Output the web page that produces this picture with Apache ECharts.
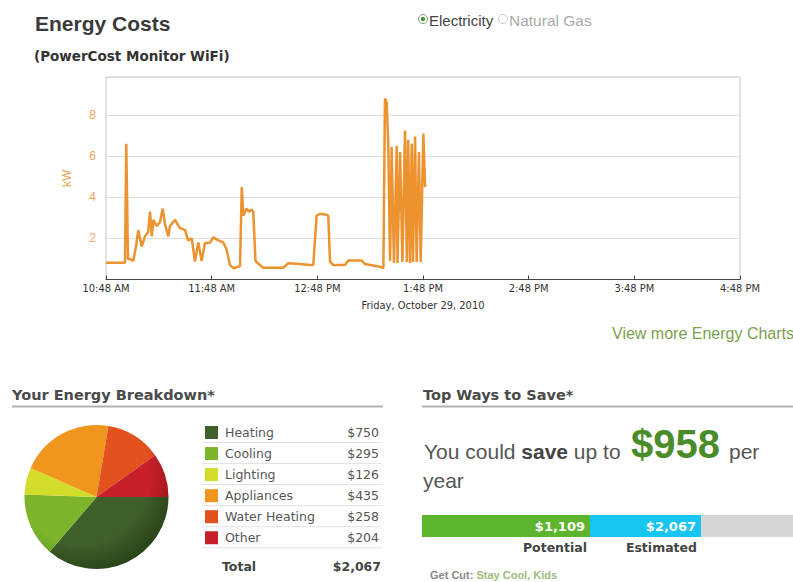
<!DOCTYPE html>
<html><head><meta charset="utf-8">
<script src="https://cdn.jsdelivr.net/npm/echarts@6/dist/echarts.min.js"></script>
<style>html,body{margin:0;padding:0;background:#fff}#c{width:793px;height:582px}</style>
</head><body><div id="c"></div>
<script>
// ---- data ----
const timeLabels = ['10:48 AM','11:48 AM','12:48 PM','1:48 PM','2:48 PM','3:48 PM','4:48 PM'];
const dateLabel = 'Friday, October 29, 2010';
const minutes = [0,10.8,11.5,12.5,13.6,15.5,17,18.3,20.3,22.1,23.9,25,26,26.9,28.8,30.7,32.2,33.5,35.4,36.3,39.2,42,44.9,46.6,48.7,50.5,52.4,54.3,56.2,59.1,60.9,63.8,66.6,68.5,70.4,72.3,76.1,77.1,78,79.9,81.2,82.7,83.6,84.9,87.5,89.3,100.7,103.5,110.2,115.8,117.7,119.6,121.5,125.3,126.2,127.2,129.1,135.7,137.6,145.2,147.1,155.6,157.5,158.4,159.4,160.3,161.3,162.2,163.5,165.1,165.5,167,168.3,169.8,170.8,171.6,172.6,173.6,174.3,175.5,176.4,177.7,178.7,180.2,181.2];
const kw = [0.82,0.82,6.6,1.0,1.0,0.9,1.6,2.4,1.6,2.1,2.3,3.3,2.1,2.9,2.6,2.8,3.45,2.7,2.1,2.6,2.9,2.5,2.4,1.9,2.0,0.87,1.8,0.9,1.76,1.8,2.05,1.9,1.8,1.45,0.7,0.55,0.65,4.5,3.1,3.45,3.3,3.4,3.3,0.9,0.7,0.57,0.57,0.79,0.75,0.7,0.7,3.1,3.2,3.15,3.1,0.87,0.7,0.7,0.92,0.92,0.75,0.62,0.55,8.8,8.6,6.5,0.9,6.45,0.8,6.5,0.8,6.2,0.85,7.25,0.85,6.8,0.8,6.6,0.85,6.95,0.85,6.2,0.85,7.1,4.5];
const categories = ['Heating','Cooling','Lighting','Appliances','Water Heating','Other'];
const costs = [750,295,126,435,258,204];
const totalCost = 2067;
const saveLabels = ['Potential','Estimated'];
const saveValues = [1109,2067];
const savingsPerYear = 958;

// ---- styles ----
const sliceColors = ['#3f5f2b','#7cb52c','#d2dc2a','#f0961f','#e3511f','#c8202a'];
const sliceDark = ['#2a4219','#5a8a18','#a8b014','#c87410','#b83a10','#981418'];
const money = v => '$' + v.toLocaleString('en-US');
const SANS = '"Liberation Sans", Arial, sans-serif';
const VERD = '"DejaVu Sans", Verdana, sans-serif';
const NARROW = '"Liberation Sans Narrow", "DejaVu Sans Condensed", sans-serif';

const chart = echarts.init(document.getElementById('c'), null, {renderer:'svg'});

const pieC = [96.5, 497], pieR = 72;

function txt(text, x, y, font, fill, align) {
  return {type:'text', x, y, silent:true, style:{text, font, fill, align: align||'left', verticalAlign:'middle', textAlign: align||'left', textVerticalAlign:'middle'}};
}
const g = [];
g.push(txt('Energy Costs', 35, 23, 'bold 21px ' + SANS, '#3a3a3a'));
g.push(txt('(PowerCost Monitor WiFi)', 34, 56, 'bold 13.5px ' + VERD, '#333'));
// radio buttons
g.push({type:'circle', shape:{cx:423, cy:19, r:4.5}, style:{fill:'#fff', stroke:'#7a9a7a', lineWidth:1}, silent:true});
g.push({type:'circle', shape:{cx:423, cy:19, r:2.2}, style:{fill:'#3a9a3a'}, silent:true});
g.push(txt('Electricity', 429, 20, '15px ' + SANS, '#444'));
g.push({type:'circle', shape:{cx:503, cy:19, r:4.5}, style:{fill:'#fff', stroke:'#ccc', lineWidth:1}, silent:true});
g.push(txt('Natural Gas', 509, 20, '15.5px ' + SANS, '#aaa'));
g.push(txt('View more Energy Charts', 612, 333, '16px ' + SANS, '#7ba14e'));
// section headers
g.push(txt('Your Energy Breakdown*', 12, 395, 'bold 14.5px ' + VERD, '#4a4a4a'));
g.push({type:'line', shape:{x1:12, y1:406.5, x2:383, y2:406.5}, style:{stroke:'#b0b0b0', lineWidth:2}, silent:true});
g.push(txt('Top Ways to Save*', 423, 395, 'bold 14.5px ' + VERD, '#4a4a4a'));
g.push({type:'line', shape:{x1:422, y1:406.5, x2:793, y2:406.5}, style:{stroke:'#b0b0b0', lineWidth:2}, silent:true});
// legend table
categories.forEach((c, i) => {
  const y = 432.5 + i * 21.05;
  g.push({type:'rect', shape:{x:205, y:y-6.5, width:13, height:13}, style:{fill:sliceColors[i]}, silent:true});
  g.push(txt(c, 225, y, '12.5px ' + VERD, '#555'));
  g.push(txt(money(costs[i]), 379, y, '12.5px ' + VERD, '#555', 'right'));
  g.push({type:'line', shape:{x1:202, y1:y+10, x2:382, y2:y+10}, style:{stroke:'#e2e2e2', lineWidth:1}, silent:true});
});
g.push(txt('Total', 222, 566, 'bold 12.5px ' + VERD, '#444'));
g.push(txt(money(totalCost), 381, 566, 'bold 12.5px ' + VERD, '#444', 'right'));
// save text
g.push({type:'text', x:424, y:451, silent:true, style:{
  text:'{a|You could }{b|save}{a| up to}', verticalAlign:'middle', textVerticalAlign:'middle',
  rich:{a:{font:'21px ' + SANS, fill:'#555'}, b:{font:'bold 21px ' + SANS, fill:'#444'}}}});
g.push(txt(money(savingsPerYear), 631, 444, 'bold 40px ' + SANS, '#4a8b2a'));
g.push(txt('per', 729, 451, '21px ' + SANS, '#555'));
g.push(txt('year', 423, 480, '21px ' + SANS, '#555'));
// bar captions
g.push(txt(saveLabels[0], 587, 547, 'bold 12.5px ' + VERD, '#444', 'right'));
g.push(txt(saveLabels[1], 697, 547, 'bold 12.5px ' + VERD, '#444', 'right'));
// partially visible bottom line (kept fully inside the page)
g.push({type:'text', x:430, y:575, silent:true, style:{text:'{a|Get Cut: }{b|Stay Cool, Kids}', verticalAlign:'middle', textVerticalAlign:'middle',
  rich:{a:{font:'bold 11px ' + SANS, fill:'#888'}, b:{font:'bold 11px ' + SANS, fill:'#9cbc7c'}}}});

const option = {
  animation:false,
  backgroundColor:'#fff',
  graphic: g,
  grid:[
    {left:106, right:53, top:77, bottom:302.5, show:true, borderColor:'#c4c4c4', borderWidth:1, backgroundColor:'transparent'},
    {left:422, right:0, top:515, height:22}
  ],
  xAxis:[
    {gridIndex:0, type:'value', min:0, max:360, interval:60,
     axisLine:{lineStyle:{color:'#444'}}, axisTick:{show:true, inside:true, length:4, lineStyle:{color:'#444'}},
     splitLine:{show:false},
     axisLabel:{margin:3, fontSize:11, color:'#333', fontFamily:NARROW, formatter:v => timeLabels[Math.round(v/60)] || ''},
     name:dateLabel, nameLocation:'middle', nameGap:20, nameTextStyle:{fontSize:11, color:'#333', fontFamily:NARROW}},
    {gridIndex:1, type:'value', min:-341, max:2861, startValue:-341, show:false}
  ],
  yAxis:[
    {gridIndex:0, type:'value', min:0, max:9.85, interval:2,
     axisLine:{show:false}, axisTick:{show:false},
     splitLine:{lineStyle:{color:'#dedede'}},
     axisLabel:{margin:10, fontSize:12, color:'#f0a458', fontFamily:SANS, formatter:v => (v > 0 && v % 2 === 0) ? String(v) : ''},
     name:'kW', nameLocation:'middle', nameGap:33, nameTextStyle:{fontSize:12, color:'#f0a458', fontFamily:SANS}},
    {gridIndex:1, type:'category', data:['save'], show:false}
  ],
  series:[
    {type:'line', xAxisIndex:0, yAxisIndex:0, data:minutes.map((m,i)=>[m, kw[i]]),
     showSymbol:false, symbol:'none', lineStyle:{color:'#ec922e', width:2.5}, silent:true, z:3},
    {type:'bar', xAxisIndex:1, yAxisIndex:1, data:[saveValues[1]], barWidth:22, barGap:'-100%',
     showBackground:true, backgroundStyle:{color:'#d6d6d6'},
     itemStyle:{color:'#16c6f0'}, silent:true,
     label:{show:true, position:'insideRight', distance:5, color:'#fff', fontWeight:'bold', fontSize:13, fontFamily:VERD, formatter:p => money(p.value)}},
    {type:'bar', xAxisIndex:1, yAxisIndex:1, data:[saveValues[0]], barWidth:22, barGap:'-100%',
     itemStyle:{color:'#5cb52c'}, silent:true,
     label:{show:true, position:'insideRight', distance:5, color:'#fff', fontWeight:'bold', fontSize:13, fontFamily:VERD, formatter:p => money(p.value)}},
    {type:'pie', center:pieC, radius:pieR, startAngle:0, clockwise:true, silent:true,
     label:{show:false}, labelLine:{show:false},
     data:categories.map((c,i)=>({name:c, value:costs[i], itemStyle:{
       color:{type:'radial', x:pieC[0]-15, y:pieC[1]-20, r:pieR+25, global:true,
              colorStops:[{offset:0, color:sliceColors[i]},{offset:0.7, color:sliceColors[i]},{offset:1, color:sliceDark[i]}]}}}))}
  ]
};
chart.setOption(option);
</script>
</body></html>
